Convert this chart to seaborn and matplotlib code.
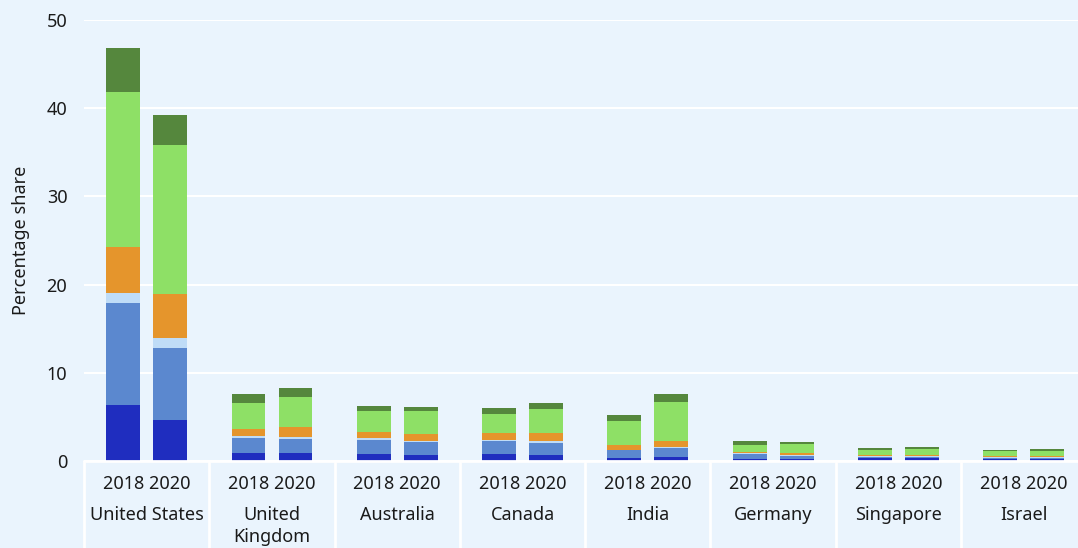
import numpy as np
import pandas as pd
import matplotlib
matplotlib.use("Agg")
import matplotlib.pyplot as plt
import seaborn as sns

# ---- data ----
countries = ["United States", "United Kingdom", "Australia", "Canada",
             "India", "Germany", "Singapore", "Israel"]
country_labels = ["United States", "United\nKingdom", "Australia", "Canada",
                  "India", "Germany", "Singapore", "Israel"]
years = ["2018", "2020"]
segments = ["Segment 1", "Segment 2", "Segment 3", "Segment 4", "Segment 5", "Segment 6"]

seg1_2018 = [6.35, 0.9, 0.8, 0.8, 0.34, 0.27, 0.30, 0.27]
seg1_2020 = [4.65, 0.9, 0.7, 0.7, 0.45, 0.27, 0.30, 0.27]
seg2_2018 = [11.55, 1.7, 1.6, 1.5, 0.90, 0.53, 0.15, 0.10]
seg2_2020 = [8.15, 1.6, 1.5, 1.3, 1.00, 0.30, 0.15, 0.05]
seg3_2018 = [1.15, 0.2, 0.2, 0.1, 0.05, 0.10, 0.15, 0.13]
seg3_2020 = [1.15, 0.2, 0.1, 0.3, 0.15, 0.13, 0.15, 0.13]
seg4_2018 = [5.25, 0.8, 0.7, 0.8, 0.55, 0.15, 0.12, 0.10]
seg4_2020 = [4.95, 1.2, 0.8, 0.9, 0.67, 0.25, 0.12, 0.10]
seg5_2018 = [17.5, 3.0, 2.4, 2.1, 2.70, 0.75, 0.53, 0.53]
seg5_2020 = [16.9, 3.4, 2.6, 2.7, 4.45, 1.00, 0.64, 0.53]
seg6_2018 = [5.0, 1.0, 0.5, 0.7, 0.70, 0.45, 0.22, 0.12]
seg6_2020 = [3.4, 1.0, 0.4, 0.7, 0.90, 0.22, 0.24, 0.23]

colors = ["#1F2DBF", "#5B88CF", "#BFDCF7", "#E5952C", "#8EE066", "#55873D"]
bg = "#EAF4FD"

# ---- tidy frame ----
seg_2018 = [seg1_2018, seg2_2018, seg3_2018, seg4_2018, seg5_2018, seg6_2018]
seg_2020 = [seg1_2020, seg2_2020, seg3_2020, seg4_2020, seg5_2020, seg6_2020]
rows = []
for si, seg in enumerate(segments):
    for yr, vals in (("2018", seg_2018[si]), ("2020", seg_2020[si])):
        for c, v in zip(countries, vals):
            rows.append({"country": c, "year": yr, "segment": seg, "value": v, "order": si})
df = pd.DataFrame(rows)
df["cum"] = df.sort_values("order").groupby(["country", "year"])["value"].cumsum()

# ---- plot ----
sns.set_theme(style="white")
plt.rcParams["font.family"] = ["Noto Sans", "DejaVu Sans"]

fig = plt.figure(figsize=(10.78, 5.48), dpi=100)
fig.patch.set_facecolor(bg)
ax = fig.add_axes([84 / 1078, 87 / 548, 1002.4 / 1078, 441 / 548])
ax.set_facecolor(bg)

for si in reversed(range(len(segments))):
    sub = df[df["segment"] == segments[si]]
    sns.barplot(data=sub, x="country", y="cum", hue="year", order=countries,
                hue_order=years, palette=[colors[si], colors[si]], width=0.75,
                gap=0.28, saturation=1, errorbar=None, legend=False, ax=ax,
                linewidth=0, zorder=3)

ax.set_ylim(0, 50)
ax.set_xlim(-0.5, 7.5)
ax.set_yticks([0, 10, 20, 30, 40, 50])
ax.yaxis.grid(True, color="white", linewidth=1.5, zorder=0)
ax.set_axisbelow(True)
ax.tick_params(axis="y", length=0, pad=12, labelsize=13, labelcolor="#1a1a1a")
ax.set_xticks([])
ax.set_xlabel("")
ax.set_ylabel("Percentage share", fontsize=13, color="#1a1a1a", labelpad=12)
for s in ax.spines.values():
    s.set_visible(False)

# bottom category table
ax.axhline(0, color="white", linewidth=2, zorder=4, clip_on=False)
trans = ax.get_xaxis_transform()
for i in range(len(countries) + 1):
    ax.plot([i - 0.5, i - 0.5], [0, -0.2], color="white", linewidth=2,
            transform=trans, clip_on=False)
for i, lab in enumerate(country_labels):
    ax.text(i, -0.052, " ".join(years), transform=trans, ha="center", va="center",
            fontsize=13, color="#1a1a1a")
    ax.text(i, -0.103, lab, transform=trans, ha="center", va="top",
            fontsize=13, color="#1a1a1a", linespacing=1.25)

fig.savefig("out.png", dpi=100, facecolor=bg)
